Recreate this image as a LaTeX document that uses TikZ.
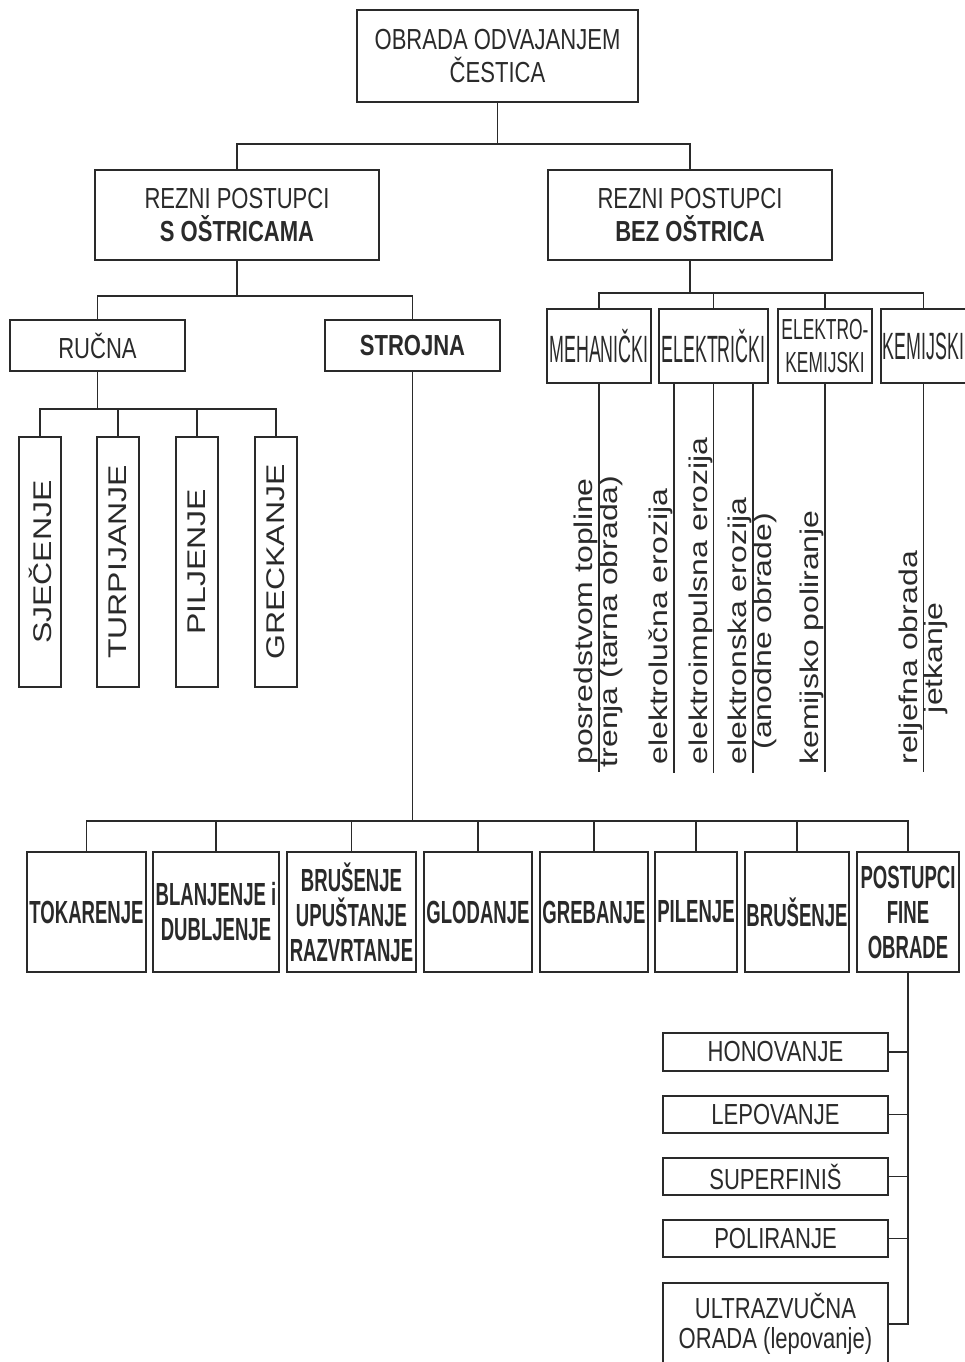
\documentclass[tikz,border=0pt]{standalone}
\usepackage{fontspec}
\setmainfont{Liberation Sans}
\newfontfamily\nrw[FakeStretch=0.76]{Liberation Sans}
\newfontfamily\nrwb[FakeStretch=0.58]{Liberation Sans}
\newfontfamily\xnrw[FakeStretch=0.47]{Liberation Sans}
\newfontfamily\eknrw[FakeStretch=0.6]{Liberation Sans}
\definecolor{ink}{HTML}{2A2A2A}

\begin{document}
\begin{tikzpicture}[x=0.5pt, y=-0.5pt, color=ink]
	\tikzstyle{box}=[draw, line width=1pt, inner sep=0pt, align=center]
	\tikzstyle{link}=[draw, line width=0.8pt]
	\tikzstyle{reg}=[font=\nrw\fontsize{14.5}{16.5}\selectfont]
	\tikzstyle{bot}=[font=\nrwb\bfseries\fontsize{16}{17.5}\selectfont]
	\tikzstyle{mid}=[font=\xnrw\fontsize{19}{20}\selectfont]
	\tikzstyle{vbox}=[box, rotate=90, yscale=0.8, font=\fontsize{16}{18}\selectfont]
	\tikzstyle{vtext}=[rotate=90, yscale=0.8, inner sep=0pt, font=\fontsize{16}{18}\selectfont]
	\tikzset{sz/.style 2 args={minimum width=#1*0.5pt, minimum height=#2*0.5pt}}

	\useasboundingbox (0,0) rectangle (965,1362);

	% Top
	\node [box, reg, sz={281}{92}] at (497.5,56) (top) {OBRADA ODVAJANJEM\\ČESTICA};
	\node [box, reg, sz={284}{90}] at (237,215) (rsa) {REZNI POSTUPCI\\\textbf{S OŠTRICAMA}};
	\node [box, reg, sz={284}{90}] at (690,215) (rbo) {REZNI POSTUPCI\\\textbf{BEZ OŠTRICA}};
	\path [link] (top.south) -- ++(0,41) coordinate (j1);
	\path [link] (rsa.north) |- (j1) -| (rbo.north);

	% Rucna / strojna
	\node [box, reg, sz={175}{51}] at (97.5,345.5) (ruc) {RUČNA};
	\node [box, reg, sz={175}{51}] at (412.5,345.5) (str) {\textbf{STROJNA}};
	\path [link] (rsa.south) -- ++(0,35) coordinate (j2);
	\path [link] (ruc.north) |- (j2) -| (str.north);

	\foreach \nm/\cx/\txt in {sje/40/SJEČENJE, tur/118/TURPIJANJE, plj/197/PILJENJE, grc/276/GRECKANJE}
	{
		\node [vbox, sz={250}{52.5}] at (\cx,562) (\nm) {\txt};
	}
	\path [link] (ruc.south) -- ++(0,37) coordinate (j4);
	\path [link] (sje.east) |- (j4) -| (grc.east);
	\foreach \nm in {tur,plj}
		\path [link] (\nm.east) -- (\nm.east |- j4);

	% Bez ostrica
	\foreach \nm/\cx/\bw/\txt in {meh/599/104/MEHANIČKI, ele/713.5/109/ELEKTRIČKI, kem/923.5/85/KEMIJSKI}
	{
		\node [box, mid, sz={\bw}{74}] at (\cx,346) (\nm) {\txt};
	}
	\node [box, font=\eknrw\fontsize{14.5}{16.5}\selectfont, sz={94}{74}] at (825,346) (ek) {ELEKTRO-\\KEMIJSKI};
	\path [link] (rbo.south) -- ++(0,32) coordinate (j3);
	\path [link] (meh.north) |- (j3) -| (kem.north);
	\foreach \nm in {ele,ek}
		\path [link] (\nm.north) -- (\nm.north |- j3);

	\coordinate (vend) at (0,772);
	\foreach \nm in {meh,ek,kem}
		\path [link] (\nm.south) -- (\nm.south |- vend);
	\foreach \dx in {-19.75,0,19.75}
		\path [link] ([xshift=\dx pt]ele.south) -- ++(0,389);

	\node [vtext, anchor=south west] at (598,765) (mt1) {posredstvom topline};
	\node [vtext, anchor=north] at ([xshift=0.5pt]mt1.south) (mt2) {trenja (tarna obrada)};
	\node [vtext, anchor=south west] at (673,765) (et1) {elektrolučna erozija};
	\node [vtext, anchor=south west] at (713,765) (et2) {elektroimpulsna erozija};
	\node [vtext, anchor=south west] at (752,765) (et3) {elektronska erozija};
	\node [vtext, anchor=north] at ([xshift=0.5pt]et3.south) (et4) {(anodne obrade)};
	\node [vtext, anchor=south west] at (824,765) (ekt) {kemijsko poliranje};
	\node [vtext, anchor=south west] at (923,765) (kt1) {reljefna obrada};
	\node [vtext, anchor=north] at ([xshift=0.5pt]kt1.south) (kt2) {jetkanje};

	% Strojna obrada
	\foreach \nm/\cx/\bw/\txt in {tok/86.5/119/TOKARENJE, bla/216/126/{BLANJENJE i\\DUBLJENJE}, bru/351.5/129/{BRUŠENJE\\UPUŠTANJE\\RAZVRTANJE}, glo/478/108/GLODANJE, gre/594/108/GREBANJE, pil/696/82/PILENJE, brs/797/104/BRUŠENJE, fin/908/102/{POSTUPCI\\FINE\\OBRADE}}
	{
		\node [box, bot, sz={\bw}{120}] at (\cx,912) (\nm) {\txt};
	}
	\path [link] (str.south) -- ++(0,449) coordinate (j5);
	\path [link] (tok.north) |- (j5) -| (fin.north);
	\foreach \nm in {bla,bru,glo,gre,pil,brs}
		\path [link] (\nm.north) -- (\nm.north |- j5);

	% Fina obrada
	\foreach \nm/\cy/\txt in {hon/1052/HONOVANJE, lep/1114.5/LEPOVANJE, sup/1176.5/SUPERFINIŠ, pol/1238.5/POLIRANJE}
	{
		\node [box, reg, sz={225}{37.5}] at (775.5,\cy) (\nm) {\txt};
		\path [link] (\nm.east) -- (\nm.east -| fin.south);
	}
	\node [box, font=\nrw\fontsize{14.5}{15}\selectfont, sz={225}{82}] at (775.5,1324) (ult) {ULTRAZVUČNA\\ORADA (lepovanje)};
	\path [link] (fin.south) |- (ult.east);

\end{tikzpicture}
\end{document}
